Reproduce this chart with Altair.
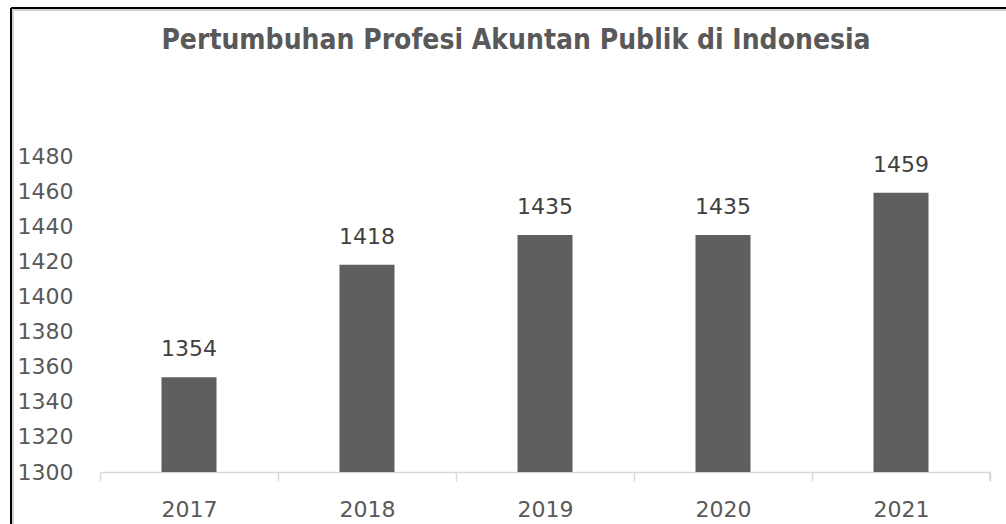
import altair as alt
import pandas as pd

years = ["2017", "2018", "2019", "2020", "2021"]
values = [1354, 1418, 1435, 1435, 1459]
y_ticks = [1300, 1320, 1340, 1360, 1380, 1400, 1420, 1440, 1460, 1480]

df = pd.DataFrame({"year": years, "value": values})

W, H = 890, 316
FONT = "DejaVu Sans"
GRAY = "#595959"

xscale = alt.Scale(paddingInner=0, paddingOuter=0)
yscale = alt.Scale(domain=[1300, 1480], nice=False, zero=False)

xaxis = alt.Axis(labelAngle=0, labelFont=FONT, labelFontSize=22, labelColor=GRAY,
                 domainColor="#d9d9d9", domainWidth=1.5, tickColor="#d9d9d9",
                 tickWidth=1.5, tickSize=9, tickBand="extent", labelPadding=18)
yaxis = alt.Axis(values=y_ticks, grid=False, domain=False, ticks=False, format="d",
                 labelFont=FONT, labelFontSize=22, labelColor=GRAY,
                 labelAlign="left", labelPadding=83, labelBaseline="middle")

base = alt.Chart(df)

bars = base.mark_bar(size=55, color="#5f5f5f", clip=True).encode(
    x=alt.X("year:N", sort=years, title=None, scale=xscale, axis=xaxis),
    y=alt.Y("value:Q", title=None, scale=yscale, axis=yaxis),
)

labels = base.mark_text(font=FONT, fontSize=22, color="#404040", baseline="alphabetic", dy=-21).encode(
    x=alt.X("year:N", sort=years, title=None, scale=xscale, axis=xaxis),
    y=alt.Y("value:Q", title=None, scale=yscale, axis=yaxis),
    text=alt.Text("value:Q", format="d"),
)

end_tick = base.mark_rule(color="#d9d9d9", strokeWidth=1.5).encode(
    x=alt.value(W), y=alt.value(H), y2=alt.value(H + 9)
)

border_left = base.mark_rule(color="#000000", strokeWidth=2).encode(
    x=alt.value(-89), y=alt.value(-148), y2=alt.value(H + 60)
)
border_top = base.mark_rule(color="#000000", strokeWidth=2).encode(
    y=alt.value(-148), x=alt.value(-89), x2=alt.value(W + 30)
)
inner_left = base.mark_rule(color="#d0d0d0", strokeWidth=1.5).encode(
    x=alt.value(-87), y=alt.value(-146), y2=alt.value(H + 60)
)
inner_top = base.mark_rule(color="#d0d0d0", strokeWidth=1.5).encode(
    y=alt.value(-146), x=alt.value(-87), x2=alt.value(W + 30)
)

chart = alt.layer(bars, labels, end_tick, inner_left, inner_top, border_left, border_top).properties(
    width=W,
    height=H,
    title=alt.TitleParams(
        "Pertumbuhan Profesi Akuntan Publik di Indonesia",
        font="DejaVu Sans Condensed", fontSize=28, fontWeight="bold", color=GRAY,
        anchor="middle", dx=-29, offset=0, dy=70, baseline="alphabetic",
    ),
    padding={"left": 100, "top": 156, "right": 16, "bottom": 52},
    autosize=alt.AutoSizeParams(type="none"),
    background="white",
).configure_view(stroke="transparent", strokeWidth=0)

chart.save("out.html", embed_options={"renderer": "svg", "actions": False})
